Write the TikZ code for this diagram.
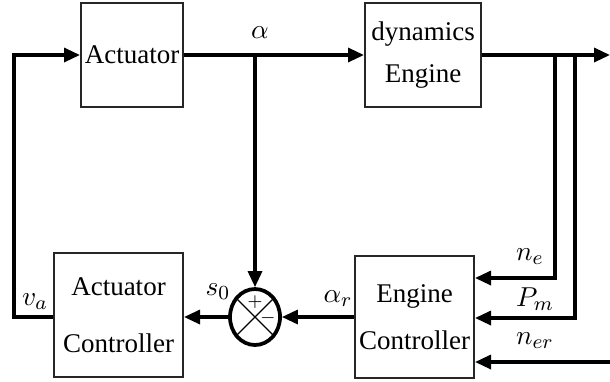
\documentclass[tikz,border=0pt]{standalone}
\usepackage{amsmath}
\usepackage{fontspec}
\setmainfont{Liberation Serif}
\usetikzlibrary{arrows.meta,shapes.geometric}

\begin{document}
\begin{tikzpicture}[x=0.4pt,y=-0.4pt,>={Triangle[length=6.4pt,width=5.6pt]},
    every node/.style={font=\rmfamily\fontsize{10.8}{13}\selectfont}]
  \tikzstyle{block}=[rectangle,draw=black!85,line width=0.8pt,align=center,
                     inner sep=1pt]
  \tikzstyle{sigline}=[line width=1.3pt]
  \tikzstyle{junction}=[ellipse,draw,line width=1.5pt,inner sep=0pt,
                        minimum width=20pt,minimum height=22.4pt]
  \tikzstyle{sgn}=[inner sep=0pt,font=\scriptsize]
  \useasboundingbox (0,0) rectangle (610,381);

  % blocks
  \node [block,minimum width=40.8pt,minimum height=41.6pt] (act) at (132,55) {Actuator};
  \node [block,minimum width=46.4pt,minimum height=41.6pt] (eng) at (423,55) {dynamics\\[4pt]Engine};
  \node [block,minimum width=51.6pt,minimum height=49.6pt] (actctrl) at (118.5,315) {Actuator\\[10pt]Controller};
  \node [block,minimum width=47.6pt,minimum height=48.8pt] (engctrl) at (414.5,317) {Engine\\[6pt]Controller};

  % summing point
  \node [junction] (sum) at (255,317) {};
  \draw [line width=0.5pt] (sum.45) -- (sum.225) (sum.135) -- (sum.315);
  \node [sgn] (plus) at (255,302) {$+$};
  \node [sgn] (minus) at (268,318) {$-$};

  % branch points and free ends
  \coordinate (alpha) at (255,55);
  \coordinate (out) at (610,55);
  \coordinate (brne) at (555,55);
  \coordinate (brpm) at (575,55);
  \coordinate (fbl) at (14,317);
  \coordinate (ner) at (610,362);

  % forward path
  \draw [sigline,->] (act.east) -- (eng.west);
  \draw [sigline,->] (eng.east) -- (out);
  \draw [sigline,->] (alpha) -- (sum.north);
  \node at (260,33) {$\alpha$};

  % engine controller inputs
  \draw [sigline,->] (brne) |- (engctrl.east |- 0,278);
  \draw [sigline,->] (brpm) |- (engctrl.east |- 0,318);
  \draw [sigline,->] (ner) -- (engctrl.east |- ner);
  \node at (530,257) {$n_e$};
  \node at (535,299) {$P_m$};
  \node at (535,341) {$n_{er}$};

  % feedback through the controllers
  \draw [sigline,->] (engctrl.west |- sum) -- (sum.east);
  \draw [sigline,->] (sum.west) -- (actctrl.east |- sum);
  \draw [sigline,->] (actctrl.west |- sum) -- (fbl) |- (act.west);
  \node at (338,299) {$\alpha_r$};
  \node at (218,292) {$s_0$};
  \node at (35,302) {$v_a$};
\end{tikzpicture}
\end{document}
